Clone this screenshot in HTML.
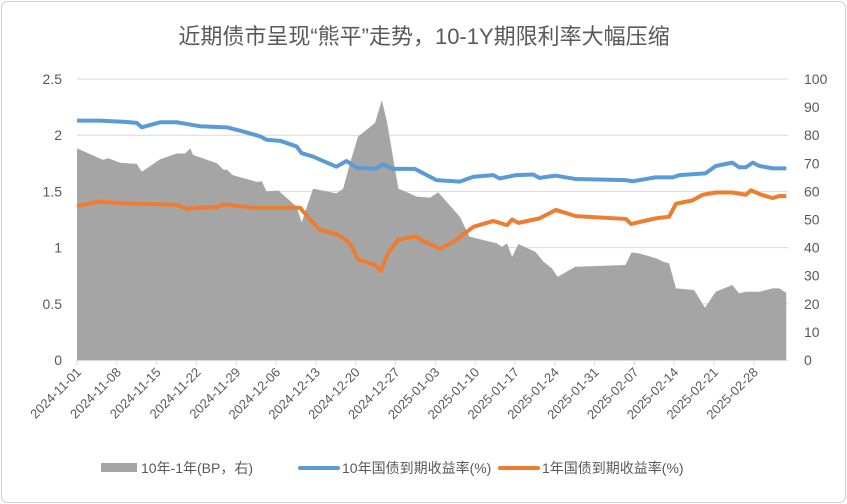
<!DOCTYPE html>
<html><head><meta charset="utf-8"><style>
body{margin:0;background:#fff;}
svg{display:block;font-family:"Liberation Sans","Noto Sans CJK SC",sans-serif;}
</style></head><body>
<svg width="847" height="504" viewBox="0 0 847 504">
<rect x="1.5" y="1.5" width="844" height="501" rx="6" fill="#fff" stroke="#d0d0d0"/>
<text x="424" y="44" text-anchor="middle" font-size="22" fill="#595959">近期债市呈现“熊平”走势，10-1Y期限利率大幅压缩</text>
<g id="grid"></g><g id="area"></g><g id="lines"></g><g id="axes"></g>
<g>
<rect x="101" y="463" width="36" height="9" fill="#a5a5a5"/>
<text x="141" y="473" font-size="14" fill="#595959">10年-1年(BP，右)</text>
<line x1="300" y1="468" x2="338" y2="468" stroke="#5b9bd5" stroke-width="4" stroke-linecap="round"/>
<text x="342" y="473" font-size="14" fill="#595959">10年国债到期收益率(%)</text>
<line x1="500" y1="468" x2="538" y2="468" stroke="#ed7d31" stroke-width="4" stroke-linecap="round"/>
<text x="542" y="473" font-size="14" fill="#595959">1年国债到期收益率(%)</text>
</g>
</svg>
<script>
const spreadDays=[0,4.6,5.5,7.6,10.5,11.4,14.6,17.5,19,19.9,20.4,24.6,25.8,26.3,27.4,31.6,32.5,33.3,35.4,38.6,39.5,41.5,45.6,46.8,48,49.4,52.4,53.6,54.5,56.5,59.8,62.1,63.5,67.3,69,73.8,74.7,75.6,76.5,77.6,80.6,82,83.5,84.5,87.6,96.4,97.5,98.9,101.8,103,104.1,105.3,108.5,110.4,112.3,115.2,116.4,117.6,120,122.3,123.5,124.7];
const spreadVals=[75.3,71.2,71.8,70.2,69.8,67,71.4,73.5,73.5,75.3,73,70,67.6,67.8,65.8,63.4,63.6,60,60.3,54.6,49,61,59.3,61,70,79.5,84.4,92.5,84.7,61,58.1,57.8,59.7,51,43.9,41.5,40.3,41.5,36.7,41.3,38.5,35,32.6,29.6,33.2,33.8,38.3,37.9,36.2,35,34.4,25.5,24.9,18.6,24.3,26.7,23.7,24.3,24.3,25.5,25.5,23.9];
const y10Days=[0,4,8,10.5,11.4,14.6,17.5,19.3,21.6,26.3,28.7,32.2,33.3,35.7,38.6,39.5,41.5,43.3,45.6,47.4,49.2,52.4,53.8,55.6,59.4,63.2,67.3,69.7,73.2,74.3,77.2,80.2,81.3,84.2,87.7,96.5,97.7,101.7,104.7,105.9,110.5,112.3,115.2,116.4,117.6,118.8,120,122.3,124.7];
const y10Vals=[2.13,2.13,2.12,2.11,2.07,2.115,2.115,2.10,2.08,2.07,2.04,1.99,1.96,1.95,1.90,1.84,1.81,1.77,1.72,1.77,1.71,1.70,1.74,1.70,1.70,1.60,1.587,1.63,1.645,1.615,1.645,1.65,1.62,1.64,1.61,1.60,1.59,1.625,1.625,1.645,1.66,1.726,1.756,1.715,1.715,1.756,1.726,1.705,1.705];
const y1Days=[0,4,8,11,14.6,17.5,19.3,21.6,24.6,25.8,31,39.2,41,42.7,45.6,47.4,48.3,49.4,52.4,53.4,54.7,56.5,59.4,61.2,63.8,66.1,69.7,73.2,75.6,76.5,77.6,81.3,84.2,87.7,96.5,97.4,101.7,104.1,105.3,108.2,110,112.3,115.2,117.6,118.5,120,122.3,123.5,124.7];
const y1Vals=[1.37,1.41,1.395,1.39,1.385,1.38,1.345,1.355,1.36,1.385,1.355,1.355,1.25,1.157,1.12,1.065,1.01,0.895,0.845,0.795,0.95,1.07,1.10,1.05,0.99,1.05,1.185,1.237,1.2,1.25,1.22,1.26,1.335,1.28,1.255,1.21,1.26,1.275,1.39,1.42,1.47,1.49,1.49,1.47,1.51,1.476,1.44,1.46,1.457];
const leftTicks=["0","0.5","1","1.5","2","2.5"];
const rightTicks=["0","10","20","30","40","50","60","70","80","90","100"];
const dateLabels=["2024-11-01","2024-11-08","2024-11-15","2024-11-22","2024-11-29","2024-12-06","2024-12-13","2024-12-20","2024-12-27","2025-01-03","2025-01-10","2025-01-17","2025-01-24","2025-01-31","2025-02-07","2025-02-14","2025-02-21","2025-02-28"];
const X0=77,X1=788,Y0=360,Y1=79,DMAX=125;
const xs=d=>X0+(X1-X0)*d/DMAX;
const yl=v=>Y0-(Y0-Y1)*v/2.5;
const yr=v=>Y0-(Y0-Y1)*v/100;
const NS="http://www.w3.org/2000/svg";
function mk(t,a,p){const e=document.createElementNS(NS,t);for(const k in a)e.setAttribute(k,a[k]);p.appendChild(e);return e;}
const grid=document.getElementById('grid'),area=document.getElementById('area'),lines=document.getElementById('lines'),axes=document.getElementById('axes');
leftTicks.forEach((t,i)=>{const v=parseFloat(t);
 if(v>0){const g=mk('line',{x1:X0,x2:X1,y1:yl(v),y2:yl(v),stroke:'#d9d9d9','stroke-width':1},grid);
 
 }
 const tx=mk('text',{x:62,y:yl(v)+5,'text-anchor':'end','font-size':14,fill:'#595959'},axes);tx.textContent=t;
 
 
});
rightTicks.forEach(t=>{const v=parseFloat(t);
 const tx=mk('text',{x:804,y:yr(v)+5,'font-size':14,fill:'#595959'},axes);tx.textContent=t;
 
 
});
let pts=spreadDays.map((d,i)=>xs(d)+','+yr(spreadVals[i]));
const poly=mk('polygon',{points:xs(spreadDays[0])+','+Y0+' '+pts.join(' ')+' '+xs(spreadDays[spreadDays.length-1])+','+Y0,fill:'#a5a5a5'},area);


const l10=mk('polyline',{points:y10Days.map((d,i)=>xs(d)+','+yl(y10Vals[i])).join(' '),fill:'none',stroke:'#5b9bd5','stroke-width':4,'stroke-linejoin':'round'},lines);


const l1=mk('polyline',{points:y1Days.map((d,i)=>xs(d)+','+yl(y1Vals[i])).join(' '),fill:'none',stroke:'#ed7d31','stroke-width':4,'stroke-linejoin':'round'},lines);


const ax=mk('line',{x1:X0,x2:X1,y1:Y0+0.5,y2:Y0+0.5,stroke:'#d9d9d9','stroke-width':1},axes);


dateLabels.forEach((t,i)=>{const x=xs(i*7);
 const tk=mk('line',{x1:x,x2:x,y1:Y0,y2:Y0+5,stroke:'#d9d9d9'},axes);
 
 
 const tx=mk('text',{x:x+5,y:373,'text-anchor':'end','font-size':13,fill:'#595959',transform:'rotate(-45 '+(x+5)+' 373)'},axes);tx.textContent=t;
 
 
});
</script>
</body></html>
